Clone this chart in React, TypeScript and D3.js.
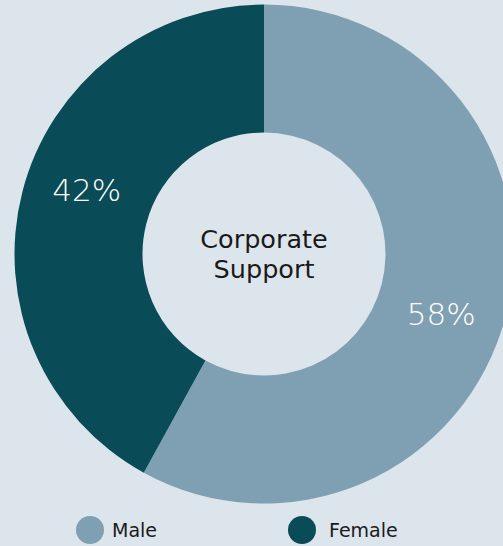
import { useEffect, useRef } from "react";
import * as d3 from "d3";

const categories = ["Male", "Female"];
const values = [58, 42];
const colors = ["#7fa0b3", "#094c57"];
const centerLines = ["Corporate", "Support"];

const W = 503;
const H = 546;
const FONT = "'DejaVu Sans', 'Noto Sans', sans-serif";

export default function App() {
  const svgRef = useRef<SVGSVGElement | null>(null);

  useEffect(() => {
    const svg = d3.select(svgRef.current);
    svg.selectAll("*").remove();

    const cx = 264;
    const cy = 254;
    const outer = 249.5;
    const inner = 121.5;

    svg.append("rect").attr("width", W).attr("height", H).attr("fill", "#dde5ec");

    const g = svg.append("g").attr("transform", `translate(${cx},${cy})`);

    const pie = d3.pie<number>().sort(null).value((d) => d);
    const arcs = pie(values);

    const arc = d3.arc<d3.PieArcDatum<number>>().innerRadius(inner).outerRadius(outer);

    g.selectAll("path.slice")
      .data(arcs)
      .join("path")
      .attr("class", "slice")
      .attr("fill", (d, i) => colors[i])
      .attr("d", arc);

    // labels sit a little past the middle of each slice
    const labelR = 188;
    const shift = (5 * Math.PI) / 180;
    g.selectAll("text.pct")
      .data(arcs)
      .join("text")
      .attr("class", "pct")
      .attr("x", (d) => Math.sin((d.startAngle + d.endAngle) / 2 + shift) * labelR)
      .attr("y", (d) => -Math.cos((d.startAngle + d.endAngle) / 2 + shift) * labelR - 2)
      .attr("text-anchor", "middle")
      .attr("dominant-baseline", "central")
      .attr("fill", "#ffffff")
      .attr("font-family", FONT)
      .attr("font-weight", 300)
      .attr("font-size", 31)
      .text((d) => `${d.data}%`);

    g.selectAll("text.center")
      .data(centerLines)
      .join("text")
      .attr("class", "center")
      .attr("x", 0)
      .attr("y", (d, i) => -15 + i * 30)
      .attr("text-anchor", "middle")
      .attr("dominant-baseline", "central")
      .attr("fill", "#1a1a1a")
      .attr("font-family", FONT)
      .attr("font-size", 25.5)
      .text((d) => d);

    const legendX = d3.scalePoint<string>().domain(categories).range([90, 302]);
    const legend = svg
      .selectAll("g.legend")
      .data(categories)
      .join("g")
      .attr("class", "legend")
      .attr("transform", (d) => `translate(${legendX(d)},530)`);

    legend
      .append("circle")
      .attr("r", 14)
      .attr("fill", (d, i) => colors[i]);

    legend
      .append("text")
      .attr("x", (d, i) => (i === 0 ? 22 : 27))
      .attr("y", 0)
      .attr("dominant-baseline", "central")
      .attr("fill", "#1a1a1a")
      .attr("font-family", FONT)
      .attr("font-size", 19)
      .text((d) => d);
  }, []);

  return (
    <div style={{ position: "absolute", left: 0, top: 0 }}>
      <svg ref={svgRef} width={W} height={H} style={{ display: "block" }} />
    </div>
  );
}
